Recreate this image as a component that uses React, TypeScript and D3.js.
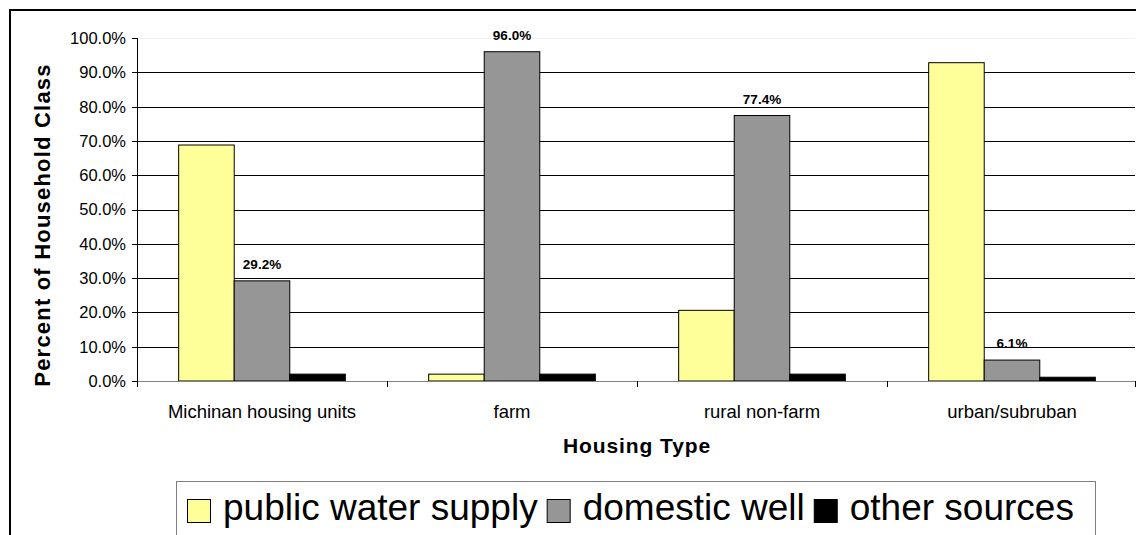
import React, { useEffect, useRef } from "react";
import * as d3 from "d3";

const categories = ["Michinan housing units", "farm", "rural non-farm", "urban/subruban"];
const seriesNames = ["public water supply", "domestic well", "other sources"];
const publicWater = [68.8, 2.0, 20.6, 92.8];
const domesticWell = [29.2, 96.0, 77.4, 6.1];
const otherSources = [2.0, 2.0, 2.0, 1.1];
const seriesColors = ["#FFFF99", "#969696", "#000000"];
const yTicks = [0, 10, 20, 30, 40, 50, 60, 70, 80, 90, 100];
const labeledSeries = [1];

const FONT = "'Liberation Sans', Arial, sans-serif";

export default function App() {
  const ref = useRef<SVGSVGElement | null>(null);

  useEffect(() => {
    const svg = d3.select(ref.current);
    svg.selectAll("*").remove();
    const W = 1136, H = 535;
    const left = 137, right = 1135, top = 38, bottom = 381;
    const series = [publicWater, domesticWell, otherSources];

    svg.append("rect").attr("x", 0).attr("y", 0).attr("width", W).attr("height", H).attr("fill", "#fff");
    // outer chart border
    svg.append("rect").attr("x", 10).attr("y", 10).attr("width", W + 20).attr("height", H + 20)
      .attr("fill", "none").attr("stroke", "#000").attr("stroke-width", 2);

    const x = d3.scaleBand<string>().domain(categories).range([left, left + 1000]).padding(0);
    const xs = d3.scaleBand<number>().domain([0, 1, 2]).range([0, x.bandwidth()])
      .paddingInner(0).paddingOuter(0.75);
    const y = d3.scaleLinear().domain([0, 100]).range([bottom, top]);

    // gridlines
    svg.append("g").selectAll("line").data(yTicks.filter((t) => t > 0)).join("line")
      .attr("x1", left).attr("x2", right)
      .attr("y1", (d) => Math.round(y(d)) + 0.5).attr("y2", (d) => Math.round(y(d)) + 0.5)
      .attr("stroke", (d) => (d === 100 ? "#f2f2f2" : "#000")).attr("stroke-width", 1);

    // bars
    series.forEach((vals, si) => {
      svg.append("g").selectAll("rect").data(vals).join("rect")
        .attr("x", (_d, i) => x(categories[i])! + xs(si)!)
        .attr("y", (d) => y(d))
        .attr("width", xs.bandwidth())
        .attr("height", (d) => bottom - y(d))
        .attr("fill", seriesColors[si])
        .attr("stroke", "#000").attr("stroke-width", 1);
    });

    // data labels
    labeledSeries.forEach((si) => {
      svg.append("g").selectAll("text").data(series[si]).join("text")
        .attr("x", (_d, i) => x(categories[i])! + xs(si)! + xs.bandwidth() / 2)
        .attr("y", (d) => y(d) - 12)
        .attr("text-anchor", "middle")
        .attr("font-family", FONT).attr("font-size", 13.5).attr("font-weight", "bold")
        .text((d) => d.toFixed(1) + "%");
    });

    // y axis
    svg.append("line").attr("x1", left + 0.5).attr("x2", left + 0.5).attr("y1", top).attr("y2", bottom + 0.5)
      .attr("stroke", "#000");
    svg.append("g").selectAll("line").data(yTicks).join("line")
      .attr("x1", left - 5).attr("x2", left)
      .attr("y1", (d) => Math.round(y(d)) + 0.5).attr("y2", (d) => Math.round(y(d)) + 0.5)
      .attr("stroke", "#000");
    svg.append("g").selectAll("text").data(yTicks).join("text")
      .attr("x", left - 11).attr("y", (d) => y(d)).attr("dy", "0.36em")
      .attr("text-anchor", "end").attr("font-family", FONT).attr("font-size", 16.5)
      .text((d) => d.toFixed(1) + "%");

    // x axis
    svg.append("line").attr("x1", left).attr("x2", right + 0.5)
      .attr("y1", bottom + 0.5).attr("y2", bottom + 0.5).attr("stroke", "#808080");
    const bounds = categories.map((c) => x(c)!).concat([left + 1000 - 2]);
    svg.append("g").selectAll("line").data(bounds).join("line")
      .attr("x1", (d) => d + 0.5).attr("x2", (d) => d + 0.5)
      .attr("y1", bottom).attr("y2", bottom + 6).attr("stroke", "#000");
    svg.append("g").selectAll("text").data(categories).join("text")
      .attr("x", (d) => x(d)! + x.bandwidth() / 2).attr("y", 418)
      .attr("text-anchor", "middle").attr("font-family", FONT).attr("font-size", 18.5)
      .text((d) => d);

    // axis titles
    svg.append("text").attr("x", 637).attr("y", 453).attr("text-anchor", "middle")
      .attr("font-family", FONT).attr("font-size", 21).attr("font-weight", "bold")
      .attr("letter-spacing", 0.9).text("Housing Type");
    svg.append("text").attr("transform", "translate(50,225) rotate(-90)").attr("text-anchor", "middle")
      .attr("font-family", FONT).attr("font-size", 22).attr("font-weight", "bold")
      .attr("letter-spacing", 1.2)
      .text("Percent of Household Class");

    // legend
    const lg = svg.append("g");
    lg.append("rect").attr("x", 176.5).attr("y", 481.5).attr("width", 919).attr("height", 80)
      .attr("fill", "#fff").attr("stroke", "#808080").attr("stroke-width", 1);
    let cx = 187;
    seriesNames.forEach((name, si) => {
      lg.append("rect").attr("x", cx + 0.5).attr("y", 499.5).attr("width", 23).attr("height", 23)
        .attr("fill", seriesColors[si]).attr("stroke", "#000");
      const t = lg.append("text").attr("x", cx + 36).attr("y", 520)
        .attr("font-family", FONT).attr("font-size", 37).text(name);
      const w = (t.node() as SVGTextElement).getComputedTextLength();
      cx = cx + 36 + w + 9;
    });
  }, []);

  return (
    <svg ref={ref} width={1136} height={535}
      style={{ position: "absolute", left: 0, top: 0, display: "block" }} />
  );
}
